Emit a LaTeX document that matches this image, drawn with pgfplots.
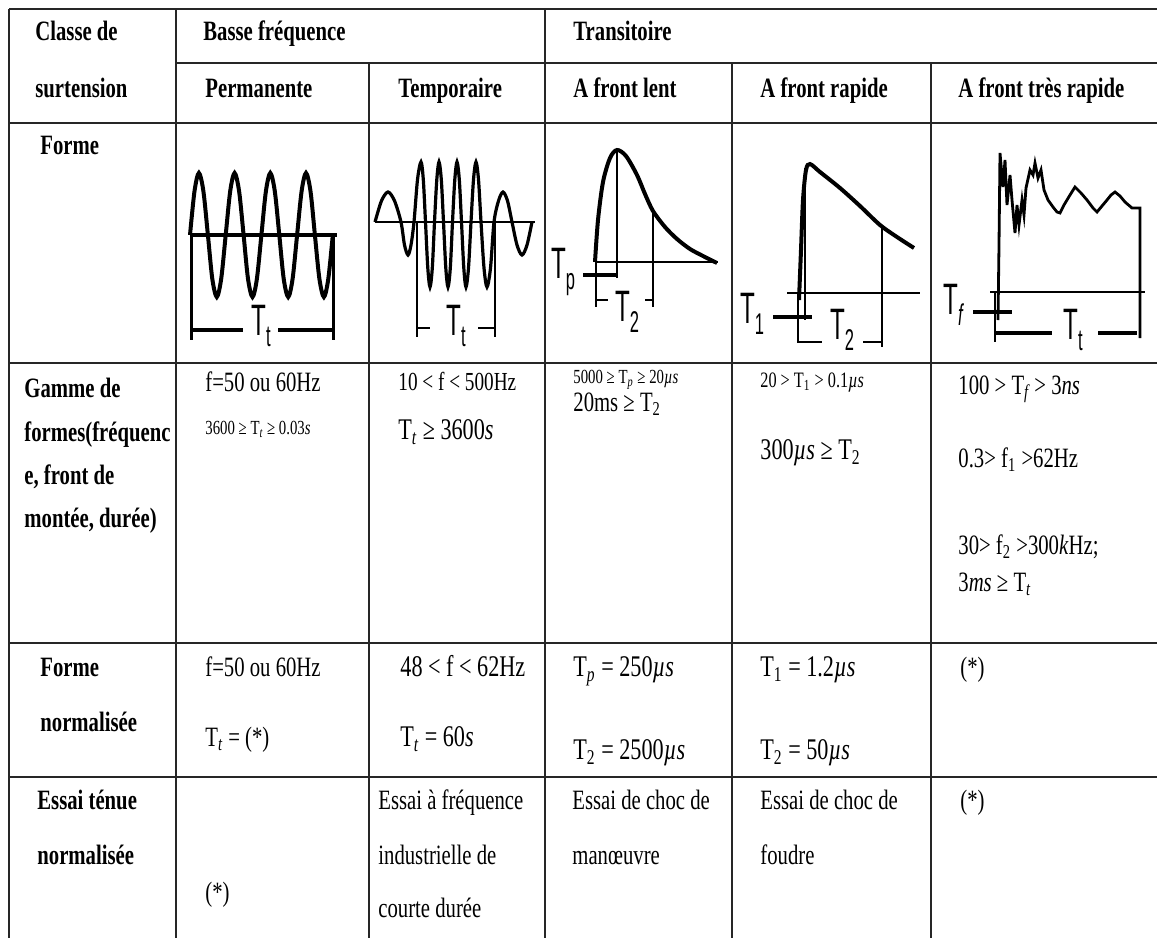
\documentclass[border=0pt]{standalone}
\usepackage{fontspec}
\setmainfont{Liberation Serif}[FakeStretch=0.74]
\newfontfamily\wf{Liberation Sans}[FakeStretch=0.55]
\usepackage{pgfplots}
\pgfplotsset{compat=1.18}
\newcommand\sub[1]{\textsubscript{#1}}
\newcommand\wl[1]{{\wf\fontsize{22}{22}\selectfont T\raisebox{-0.5ex}{\fontsize{15}{15}\selectfont #1}}}
\tikzset{
  tx/.style={anchor=base west, inner sep=0pt, font=\fontsize{#1}{#1}\selectfont, yshift={-0.33*#1pt}},
  tx/.default=14,
  hb/.style={anchor=base west, inner sep=0pt, font=\fontsize{14}{14}\selectfont\bfseries, yshift=-4.62pt},
  grid/.style={line width=1pt, black!85},
  thin/.style={line width=0.7pt, black},
  thk/.style={line width=2pt, black}
}
\begin{document}
\begin{tikzpicture}
\begin{axis}[width=578.5pt, height=469pt, scale only axis,
  xmin=0, xmax=1157, ymin=0, ymax=938, y dir=reverse,
  axis lines=none, clip=false]
% ---- table grid ----
\draw[grid] (9,9) -- (1157,9);
\draw[grid] (176,63) -- (1157,63);
\draw[grid] (9,123) -- (1157,123);
\draw[grid] (9,363) -- (1157,363);
\draw[grid] (9,643) -- (1157,643);
\draw[grid] (9,777) -- (1157,777);
\draw[grid] (9,9) -- (9,938);
\draw[grid] (176,9) -- (176,938);
\draw[grid] (369,63) -- (369,938);
\draw[grid] (545,9) -- (545,938);
\draw[grid] (732,63) -- (732,938);
\draw[grid] (931,63) -- (931,938);
% ---- headers ----
\node[hb] at (35,31) {Classe de};
\node[hb] at (35,88) {surtension};
\node[hb] at (203,31) {Basse fréquence};
\node[hb] at (573,31) {Transitoire};
\node[hb] at (205,88) {Permanente};
\node[hb] at (398,88) {Temporaire};
\node[hb] at (573,88) {A front lent};
\node[hb] at (760,88) {A front rapide};
\node[hb] at (958,88) {A front très rapide};
\node[hb] at (40,145) {Forme};
% ---- waveform 1: permanente ----
\draw[thk] (190,235) -- (337,235);
\draw[line width=1.5pt] (191,235) -- (191,340);
\draw[line width=1.5pt] (333,235) -- (333,340);
\draw[thk] (191,330) -- (243,330);
\draw[thk] (278,330) -- (332,330);
\node at (261,326) {\wl{t}};
\addplot[black, line width=2pt, smooth, no marks] coordinates {
(190.0,235) (194.5,191.2) (198.9,173) (203.4,191.2) (207.9,235) (212.3,278.8) (216.8,297) (221.2,278.8)
(225.7,235) (230.2,191.2) (234.6,173) (239.1,191.2) (243.6,235) (248.0,278.8) (252.5,297) (256.9,278.8)
(261.4,235) (265.9,191.2) (270.3,173) (274.8,191.2) (279.3,235) (283.7,278.8) (288.2,297) (292.6,278.8)
(297.1,235) (301.6,191.2) (306.0,173) (310.5,191.2) (314.9,235) (319.4,278.8) (323.9,297) (328.3,278.8)
(332.8,235)};
% ---- waveform 2: temporaire ----
\draw[line width=1pt] (375,222) -- (535,222);
\draw[thin] (417,222) -- (417,337);
\draw[thin] (495,222) -- (495,337);
\draw[line width=1pt] (417,328) -- (430,328);
\draw[line width=1pt] (478,328) -- (495,328);
\node at (456,326) {\wl{t}};
\addplot[black, line width=1.6pt, smooth, no marks] coordinates {
(375,222) (381.5,200.8) (388,192) (394.5,200.8) (401,222) (404.5,245) (408,255) (411,245) (414,222)
(417.5,179.6) (421,162) (423.3,179.6) (425.5,222) (427.8,268) (430,287) (432.3,268) (434.5,222)
(436.8,179.6) (439,162) (441.3,179.6) (443.5,222) (445.8,268) (448,287) (450.3,268) (452.5,222)
(454.8,179.6) (457,162) (459.3,179.6) (461.5,222) (463.8,268) (466,287) (468.5,268) (471,222)
(473.5,179.6) (476,162) (478.5,179.6) (481,222) (484,268) (487,287) (490.5,268) (494,222)
(498.5,200.8) (503,192) (507.5,200.8) (512,222) (517,245) (522,255) (527,245) (532,222)};
% ---- waveform 3: front lent ----
\draw[thin] (595,262) -- (718,262);
\draw[thin] (617,150) -- (617,278);
\draw[thin] (653,211) -- (653,307);
\draw[thin] (596,262) -- (596,307);
\draw[thk] (583,275) -- (617,275);
\draw[thin] (596,300) -- (608,300);
\draw[thin] (645,300) -- (653,300);
\node at (563,272) {\wl{p}};
\node at (627,312) {\wl{2}};
\addplot[black, line width=2pt, smooth, no marks] coordinates {
(595,262) (598,220) (603,182) (610,158) (617,150) (626,156) (637,175) (645,194) (653,211)
(665,227) (677,239) (690,249) (703,256) (717,263)};
% ---- waveform 4: front rapide ----
\draw[line width=1.4pt] (787,293) -- (920,293);
\draw[thin] (805,168) -- (805,320);
\draw[thin] (882,227) -- (882,347);
\draw[thin] (798,293) -- (798,343);
\draw[thk] (773,317) -- (812,317);
\draw[line width=1pt] (798,342) -- (822,342);
\draw[line width=1pt] (863,342) -- (882,342);
\node at (752,314) {\wl{1}};
\node at (842,330) {\wl{2}};
\addplot[black, line width=2pt, smooth, no marks] coordinates {
(799,300) (801,250) (803,200) (806,170) (810,164) (820,172) (840,188) (860,206) (880,225)
(897,237) (914,248)};
% ---- waveform 5: front tres rapide ----
\draw[line width=1.4pt] (990,292) -- (1145,292);
\draw[thin] (995,292) -- (995,342);
\draw[thk] (973,312) -- (1012,312);
\draw[thk] (995,333) -- (1052,333);
\draw[thk] (1098,333) -- (1137,333);
\node at (953,305) {\wl{\itshape f}};
\node at (1073,330) {\wl{t}};
\addplot[black, line width=1.4pt, no marks] coordinates {
(998,320) (999,245) (1000,153) (1003,187) (1005,160) (1007,205) (1010,175) (1012,200) (1015,233)
(1017,205) (1019,225) (1022,200) (1024,215) (1026,188) (1030,170) (1033,175) (1035,163) (1038,178)
(1041,170) (1044,190) (1048,200) (1053,207) (1057,212) (1060,213) (1064,205) (1070,195) (1075,187)
(1081,193) (1087,200) (1093,208) (1097,212) (1102,206) (1107,200) (1111,195) (1115,192) (1120,196)
(1125,202) (1132,208) (1140,208) (1140,338)};
% ---- Gamme de formes ----
\node[hb] at (24,388) {Gamme de};
\node[hb] at (24,432) {formes(fréquenc};
\node[hb] at (24,475) {e, front de};
\node[hb] at (24,518) {montée, durée)};
\node[tx] at (205,382) {f=50 ou 60Hz};
\node[tx=10] at (205,428) {3600 ≥ T\sub{\itshape t} ≥ 0.03\textit{s}};
\node[tx=13] at (398,382) {10 < f < 500Hz};
\node[tx=15] at (398,430) {T\sub{\itshape t} ≥ 3600\textit{s}};
\node[tx=10] at (573,377) {5000 ≥ T\sub{\itshape p} ≥ 20\textit{µs}};
\node[tx] at (573,402) {20ms ≥ T\sub{2}};
\node[tx=11] at (760,380) {20 > T\sub{1} > 0.1\textit{µs}};
\node[tx=15] at (760,450) {300\textit{µs} ≥ T\sub{2}};
\node[tx] at (958,385) {100 > T\sub{\itshape f} > 3\textit{ns}};
\node[tx] at (958,458) {0.3> f\sub{1} >62Hz};
\node[tx] at (958,545) {30> f\sub{2} >300\textit{k}Hz;};
\node[tx] at (958,582) {3\textit{ms} ≥ T\sub{\itshape t}};
% ---- Forme normalisee ----
\node[hb] at (40,667) {Forme};
\node[hb] at (40,722) {normalisée};
\node[tx] at (205,667) {f=50 ou 60Hz};
\node[tx] at (205,737) {T\sub{\itshape t} = (*)};
\node[tx=15] at (400,667) {48 < f < 62Hz};
\node[tx=15] at (400,737) {T\sub{\itshape t} = 60\textit{s}};
\node[tx=15] at (573,667) {T\sub{\itshape p} = 250\textit{µs}};
\node[tx=15] at (573,750) {T\sub{2} = 2500\textit{µs}};
\node[tx=15] at (760,667) {T\sub{1} = 1.2\textit{µs}};
\node[tx=15] at (760,750) {T\sub{2} = 50\textit{µs}};
\node[tx] at (960,667) {(*)};
% ---- Essai ----
\node[hb] at (37,800) {Essai ténue};
\node[hb] at (37,855) {normalisée};
\node[tx] at (205,892) {(*)};
\node[tx] at (378,800) {Essai à fréquence};
\node[tx] at (378,855) {industrielle de};
\node[tx] at (378,908) {courte durée};
\node[tx] at (572,800) {Essai de choc de};
\node[tx] at (572,855) {manœuvre};
\node[tx] at (760,800) {Essai de choc de};
\node[tx] at (760,855) {foudre};
\node[tx] at (960,800) {(*)};
\end{axis}
\pgfresetboundingbox
\path[use as bounding box] (0,0) rectangle (578.5pt,469pt);
\end{tikzpicture}
\end{document}
